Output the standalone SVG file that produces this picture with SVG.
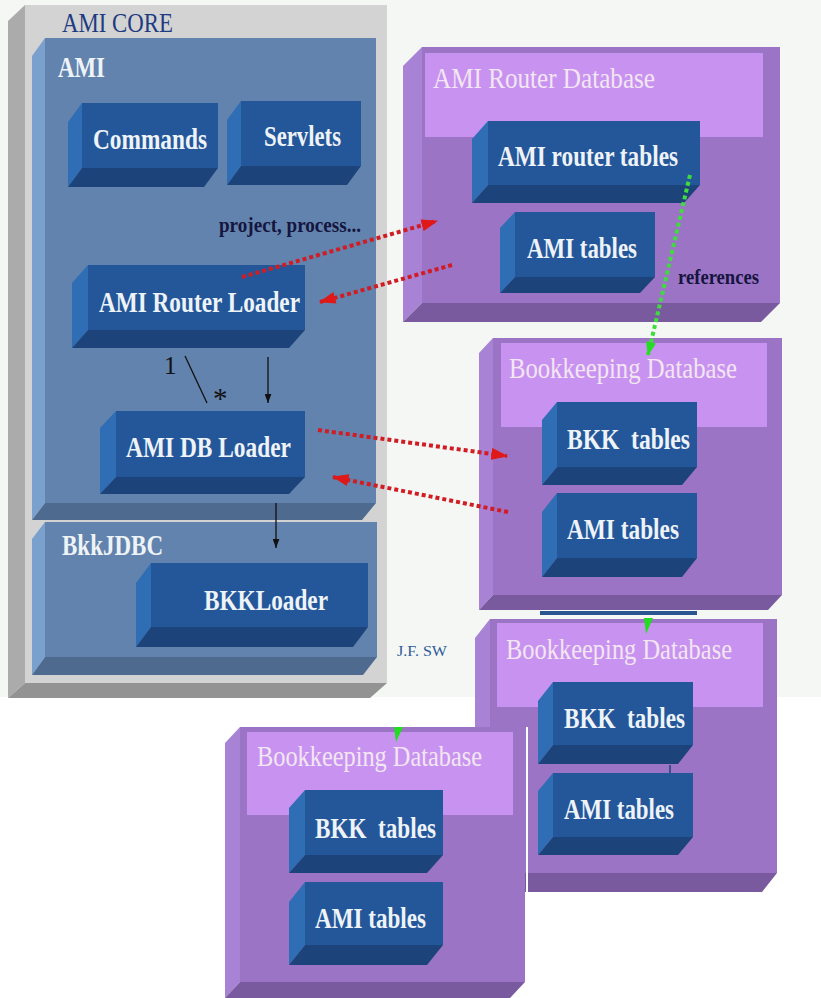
<svg xmlns="http://www.w3.org/2000/svg" width="821" height="998" viewBox="0 0 821 998">
<style>
.gF{fill:#d3d3d3}.gL{fill:#ababab}.gB{fill:#939393}
.sF{fill:#6283ad}.sL{fill:#7aa0cd}.sB{fill:#4e6a8f}
.bF{fill:#24579a}.bL{fill:#2f6db5}.bB{fill:#1d437b}
.pF{fill:#9b74c5}.pL{fill:#a882d4}.pB{fill:#7a5a9f}.pH{fill:#c893f0}
.lbl{font-family:"Liberation Serif","Times New Roman",serif;font-weight:bold;fill:#eef3f8;font-size:29px}
.ttl{font-family:"Liberation Serif","Times New Roman",serif;fill:#f3e6f3;font-size:30px}
.dk{font-family:"Liberation Serif","Times New Roman",serif;font-weight:bold;fill:#15153f;font-size:21px}
.red{fill:none;stroke:#d21c24;stroke-width:4;stroke-dasharray:4 3}
.grn{fill:none;stroke:#3fdc3f;stroke-width:4;stroke-dasharray:4 3}
.blk{fill:none;stroke:#111;stroke-width:1.3}
</style>
<defs>
<marker id="rh" viewBox="0 0 14 10" refX="13" refY="5" markerWidth="17" markerHeight="12" markerUnits="userSpaceOnUse" orient="auto"><path d="M0,0 L14,5 L0,10 z" fill="#e01818"/></marker>
<marker id="gh" viewBox="0 0 14 10" refX="13" refY="5" markerWidth="14" markerHeight="10" markerUnits="userSpaceOnUse" orient="auto"><path d="M0,0 L14,5 L0,10 z" fill="#22dd22"/></marker>
<marker id="bh" viewBox="0 0 8 6" refX="8" refY="3" markerWidth="9" markerHeight="7" markerUnits="userSpaceOnUse" orient="auto"><path d="M0,0 L8,3 L0,6 z" fill="#111"/></marker>
</defs>
<rect x="0" y="0" width="821" height="998" fill="#ffffff"/>
<rect x="0" y="0" width="821" height="697" fill="#f4f7f4"/>

<g id="ami-core">
<polygon class="gL" points="25,5 8,21 8,698 25,683"/>
<polygon class="gB" points="25,683 8,698 370,698 387,683"/>
<rect class="gF" x="25" y="5" width="362" height="678"/>
<text x="62" y="32" font-family="Liberation Serif, Times New Roman, serif" font-size="28" fill="#1f3b82" textLength="111" lengthAdjust="spacingAndGlyphs">AMI CORE</text>
</g>

<g id="ami">
<polygon class="sL" points="45,38 32,56 32,520 45,503"/>
<polygon class="sB" points="45,503 32,520 362,520 376,503"/>
<rect class="sF" x="45" y="38" width="331" height="465"/>
<text class="lbl" x="58" y="77" font-size="27" textLength="47" lengthAdjust="spacingAndGlyphs">AMI</text>
</g>

<g id="bkkjdbc">
<polygon class="sL" points="45,522 32,539 32,675 45,657"/>
<polygon class="sB" points="45,657 32,675 363,675 377,657"/>
<rect class="sF" x="45" y="522" width="332" height="135"/>
<text class="lbl" x="62" y="555" font-size="27" textLength="101" lengthAdjust="spacingAndGlyphs">BkkJDBC</text>
</g>

<g id="commands">
<polygon class="bL" points="82,103 68,122 68,187 82,168"/>
<polygon class="bB" points="82,168 68,187 204,187 218,168"/>
<rect class="bF" x="82" y="103" width="136" height="65"/>
<text class="lbl" x="93" y="149" textLength="114" lengthAdjust="spacingAndGlyphs">Commands</text>
</g>

<g id="servlets">
<polygon class="bL" points="241,101 227,120 227,185 241,166"/>
<polygon class="bB" points="241,166 227,185 347,185 361,166"/>
<rect class="bF" x="241" y="101" width="120" height="65"/>
<text class="lbl" x="264" y="146" textLength="77" lengthAdjust="spacingAndGlyphs">Servlets</text>
</g>

<g id="router-loader">
<polygon class="bL" points="88,265 72,283 72,348 88,330"/>
<polygon class="bB" points="88,330 72,348 289,348 305,330"/>
<rect class="bF" x="88" y="265" width="217" height="65"/>
<text class="lbl" x="99" y="312" textLength="201" lengthAdjust="spacingAndGlyphs">AMI Router Loader</text>
</g>

<g id="db-loader">
<polygon class="bL" points="116,411 100,428 100,494 116,477"/>
<polygon class="bB" points="116,477 100,494 289,494 305,477"/>
<rect class="bF" x="116" y="411" width="189" height="66"/>
<text class="lbl" x="126" y="457" textLength="165" lengthAdjust="spacingAndGlyphs">AMI DB Loader</text>
</g>

<g id="bkkloader">
<polygon class="bL" points="151,563 136,583 136,647 151,627"/>
<polygon class="bB" points="151,627 136,647 353,647 368,627"/>
<rect class="bF" x="151" y="563" width="217" height="64"/>
<text class="lbl" x="204" y="610" textLength="124" lengthAdjust="spacingAndGlyphs">BKKLoader</text>
</g>

<text x="397" y="656" font-family="Liberation Serif, Times New Roman, serif" font-size="15" fill="#2e5a9a" textLength="50" lengthAdjust="spacingAndGlyphs">J.F. SW</text>

<g id="router-db">
<polygon class="pL" points="422,47 403,66 403,322 422,303"/>
<polygon class="pB" points="422,303 403,322 761,322 780,303"/>
<rect class="pF" x="422" y="47" width="358" height="256"/>
<rect class="pH" x="425" y="53" width="338" height="84"/>
<text class="ttl" x="433" y="88" textLength="222" lengthAdjust="spacingAndGlyphs">AMI Router Database</text>
</g>

<g id="router-tables">
<polygon class="bL" points="488,121 472,139 472,203 488,185"/>
<polygon class="bB" points="488,185 472,203 684,203 700,185"/>
<rect class="bF" x="488" y="121" width="212" height="64"/>
<text class="lbl" x="498" y="166" textLength="180" lengthAdjust="spacingAndGlyphs">AMI router tables</text>
</g>

<g id="router-ami-tables">
<polygon class="bL" points="515,212 500,228 500,293 515,277"/>
<polygon class="bB" points="515,277 500,293 640,293 655,277"/>
<rect class="bF" x="515" y="212" width="140" height="65"/>
<text class="lbl" x="527" y="258" textLength="110" lengthAdjust="spacingAndGlyphs">AMI tables</text>
</g>

<g id="bk2">
<polygon class="pL" points="490,619 475,638 475,892 490,873"/>
<polygon class="pB" points="490,873 475,892 762,892 777,873"/>
<rect class="pF" x="490" y="619" width="287" height="254"/>
<rect class="pH" x="497" y="623" width="266" height="84"/>
<text class="ttl" x="506" y="659" textLength="226" lengthAdjust="spacingAndGlyphs">Bookkeeping Database</text>
<polygon class="bL" points="553,682 538,701 538,764 553,745"/>
<polygon class="bB" points="553,745 538,764 678,764 693,745"/>
<rect class="bF" x="553" y="682" width="140" height="63"/>
<text class="lbl" x="564" y="728" textLength="121" lengthAdjust="spacingAndGlyphs" xml:space="preserve">BKK  tables</text>
<polygon class="bL" points="553,773 538,791 538,855 553,837"/>
<polygon class="bB" points="553,837 538,855 678,855 693,837"/>
<rect class="bF" x="553" y="773" width="140" height="64"/>
<text class="lbl" x="564" y="819" textLength="110" lengthAdjust="spacingAndGlyphs">AMI tables</text>
</g>

<g id="bk1">
<rect x="540" y="611" width="157" height="4" fill="#2a5590"/>
<polygon class="pL" points="493,338 479,353 479,610 493,595"/>
<polygon class="pB" points="493,595 479,610 768,610 782,595"/>
<rect class="pF" x="493" y="338" width="289" height="257"/>
<rect class="pH" x="501" y="343" width="266" height="84"/>
<text class="ttl" x="509" y="378" textLength="228" lengthAdjust="spacingAndGlyphs">Bookkeeping Database</text>
<polygon class="bL" points="557,402 542,420 542,485 557,467"/>
<polygon class="bB" points="557,467 542,485 682,485 697,467"/>
<rect class="bF" x="557" y="402" width="140" height="65"/>
<text class="lbl" x="567" y="449" textLength="123" lengthAdjust="spacingAndGlyphs" xml:space="preserve">BKK  tables</text>
<polygon class="bL" points="557,493 542,512 542,577 557,558"/>
<polygon class="bB" points="557,558 542,577 682,577 697,558"/>
<rect class="bF" x="557" y="493" width="140" height="65"/>
<text class="lbl" x="567" y="539" textLength="112" lengthAdjust="spacingAndGlyphs">AMI tables</text>
</g>

<g id="bk3">
<polygon class="pL" points="240,727 225,743 225,998 240,982"/>
<polygon class="pB" points="240,982 225,998 510,998 525,982"/>
<rect class="pF" x="240" y="727" width="285" height="255"/>
<rect class="pH" x="247" y="732" width="266" height="83"/>
<line x1="527" y1="727" x2="527" y2="898" stroke="#ffffff" stroke-width="2"/>
<text class="ttl" x="257" y="766" textLength="225" lengthAdjust="spacingAndGlyphs">Bookkeeping Database</text>
<polygon class="bL" points="305,790 289,808 289,873 305,855"/>
<polygon class="bB" points="305,855 289,873 427,873 443,855"/>
<rect class="bF" x="305" y="790" width="138" height="65"/>
<text class="lbl" x="315" y="838" textLength="121" lengthAdjust="spacingAndGlyphs" xml:space="preserve">BKK  tables</text>
<polygon class="bL" points="305,882 289,902 289,965 305,945"/>
<polygon class="bB" points="305,945 289,965 427,965 443,945"/>
<rect class="bF" x="305" y="882" width="138" height="63"/>
<text class="lbl" x="315" y="928" textLength="111" lengthAdjust="spacingAndGlyphs">AMI tables</text>
</g>

<g id="connectors">
<line class="red" x1="242" y1="277" x2="437" y2="221" marker-end="url(#rh)"/>
<line class="red" x1="452" y1="265" x2="320" y2="302" marker-end="url(#rh)"/>
<line class="red" x1="318" y1="430" x2="507" y2="456" marker-end="url(#rh)"/>
<line class="red" x1="508" y1="512" x2="333" y2="477" marker-end="url(#rh)"/>
<line class="grn" x1="690" y1="175" x2="648" y2="355" marker-end="url(#gh)"/>
<polygon points="644,618 653,618 646,634" fill="#22dd22"/>
<polygon points="394,727 403,727 396,742" fill="#22dd22"/>
<line class="blk" x1="185" y1="356" x2="207" y2="403"/>
<line class="blk" x1="268" y1="357" x2="268" y2="403" marker-end="url(#bh)"/>
<line class="blk" x1="276" y1="503" x2="276" y2="548" marker-end="url(#bh)"/>
<line x1="670" y1="765" x2="670" y2="773" stroke="#1d437b" stroke-width="1.5"/>
<text x="164" y="374" font-family="Liberation Serif, Times New Roman, serif" font-size="25" fill="#111">1</text>
<text x="213" y="408" font-family="Liberation Serif, Times New Roman, serif" font-size="29" fill="#111">*</text>
<text class="dk" x="219" y="232" textLength="142" lengthAdjust="spacingAndGlyphs">project, process...</text>
<text class="dk" x="678" y="284" textLength="81" lengthAdjust="spacingAndGlyphs">references</text>
</g>
</svg>
